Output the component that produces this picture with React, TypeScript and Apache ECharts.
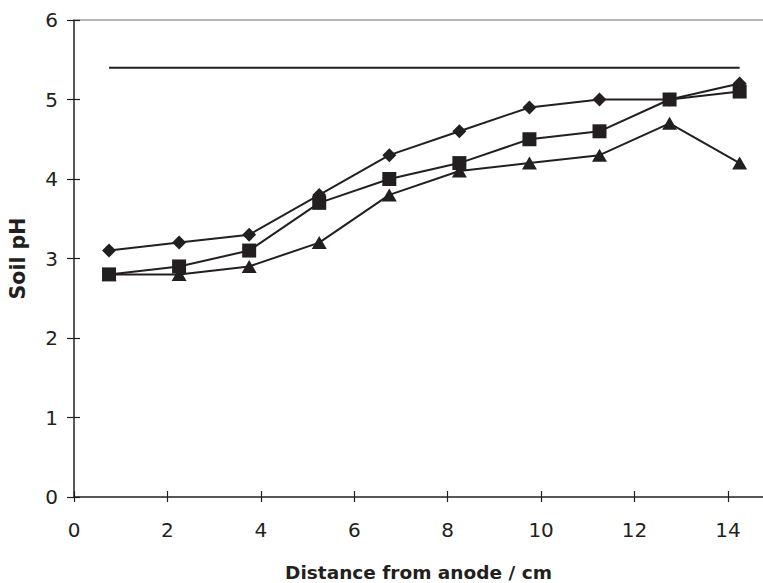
import React, { useEffect, useRef } from "react";
import * as echarts from "echarts";

const distances = [0.75, 2.25, 3.75, 5.25, 6.75, 8.25, 9.75, 11.25, 12.75, 14.25];
const seriesDiamond = [3.1, 3.2, 3.3, 3.8, 4.3, 4.6, 4.9, 5.0, 5.0, 5.2];
const seriesSquare = [2.8, 2.9, 3.1, 3.7, 4.0, 4.2, 4.5, 4.6, 5.0, 5.1];
const seriesTriangle = [2.8, 2.8, 2.9, 3.2, 3.8, 4.1, 4.2, 4.3, 4.7, 4.2];
const referenceLine = [[0.75, 5.4], [14.25, 5.4]];
const xTicks = [0, 2, 4, 6, 8, 10, 12, 14];
const yTicks = [0, 1, 2, 3, 4, 5, 6];

const INK = "#231f20";
const FONT = "DejaVu Sans, Liberation Sans, Arial";

export default function App() {
  const ref = useRef<HTMLDivElement>(null);
  useEffect(() => {
    if (!ref.current) return;
    const chart = echarts.init(ref.current, undefined, { renderer: "svg" });
    const zip = (ys: number[]) => distances.map((x, i) => [x, ys[i]]);
    const xBase = { type: "value", min: 0, max: 14.75, gridIndex: 0 } as any;
    const yBase = { type: "value", min: 0, max: 6, gridIndex: 0 } as any;
    const lineSeries = (data: any, symbol: string, size: any) => ({
      type: "line",
      data,
      symbol,
      symbolSize: size,
      showSymbol: true,
      lineStyle: { color: INK, width: 2 },
      itemStyle: { color: INK, borderWidth: 0 },
      xAxisIndex: 0,
      yAxisIndex: 0,
    });
    chart.setOption({
      animation: false,
      backgroundColor: "#ffffff",
      grid: { left: 74, right: 0, top: 20, bottom: 86, containLabel: false, outerBoundsMode: "none" },
      xAxis: [
        {
          ...xBase,
          position: "bottom",
          name: "Distance from anode / cm",
          nameLocation: "middle",
          nameGap: 66,
          nameTextStyle: { fontFamily: FONT, fontWeight: "bold", fontSize: 18.5, lineHeight: 18, color: INK },
          axisLine: { show: true, onZero: false, lineStyle: { color: INK, width: 1.5 } },
          axisTick: { show: true, inside: false, length: 5, customValues: xTicks, lineStyle: { color: INK, width: 1.2 } },
          axisLabel: { show: true, margin: 23, customValues: xTicks, fontFamily: FONT, fontSize: 20, color: INK },
          splitLine: { show: false },
        },
        {
          ...xBase,
          position: "bottom",
          axisLine: { show: false },
          axisTick: { show: true, inside: true, length: 6, customValues: xTicks, lineStyle: { color: INK, width: 1.2 } },
          axisLabel: { show: false },
          splitLine: { show: false },
        },
        {
          ...xBase,
          position: "top",
          axisLine: { show: true, onZero: false, lineStyle: { color: "#a0a0a0", width: 1.5 } },
          axisTick: { show: false },
          axisLabel: { show: false },
          splitLine: { show: false },
        },
      ],
      yAxis: [
        {
          ...yBase,
          interval: 1,
          position: "left",
          name: "Soil pH",
          nameLocation: "middle",
          nameGap: 46,
          nameRotate: 90,
          nameTextStyle: { fontFamily: FONT, fontWeight: "bold", fontSize: 20.5, color: INK },
          axisLine: { show: true, onZero: false, lineStyle: { color: INK, width: 1.5 } },
          axisTick: { show: true, inside: false, length: 7, customValues: yTicks, lineStyle: { color: INK, width: 1.2 } },
          axisLabel: { show: true, margin: 16, customValues: yTicks, fontFamily: FONT, fontSize: 20, color: INK },
          splitLine: { show: false },
        },
        {
          ...yBase,
          interval: 1,
          position: "left",
          axisLine: { show: false },
          axisTick: { show: true, inside: true, length: 6, customValues: yTicks, lineStyle: { color: INK, width: 1.2 } },
          axisLabel: { show: false },
          splitLine: { show: false },
        },
      ],
      series: [
        {
          type: "line",
          data: referenceLine,
          symbol: "none",
          lineStyle: { color: INK, width: 2 },
          xAxisIndex: 0,
          yAxisIndex: 0,
        },
        lineSeries(zip(seriesDiamond), "diamond", [14, 14]),
        lineSeries(zip(seriesTriangle), "triangle", [15, 13]),
        lineSeries(zip(seriesSquare), "rect", [14, 14]),
      ],
    });
    return () => chart.dispose();
  }, []);
  return (
    <div
      ref={ref}
      style={{ position: "fixed", left: 0, top: 0, width: 763, height: 583, background: "#fff" }}
    />
  );
}
